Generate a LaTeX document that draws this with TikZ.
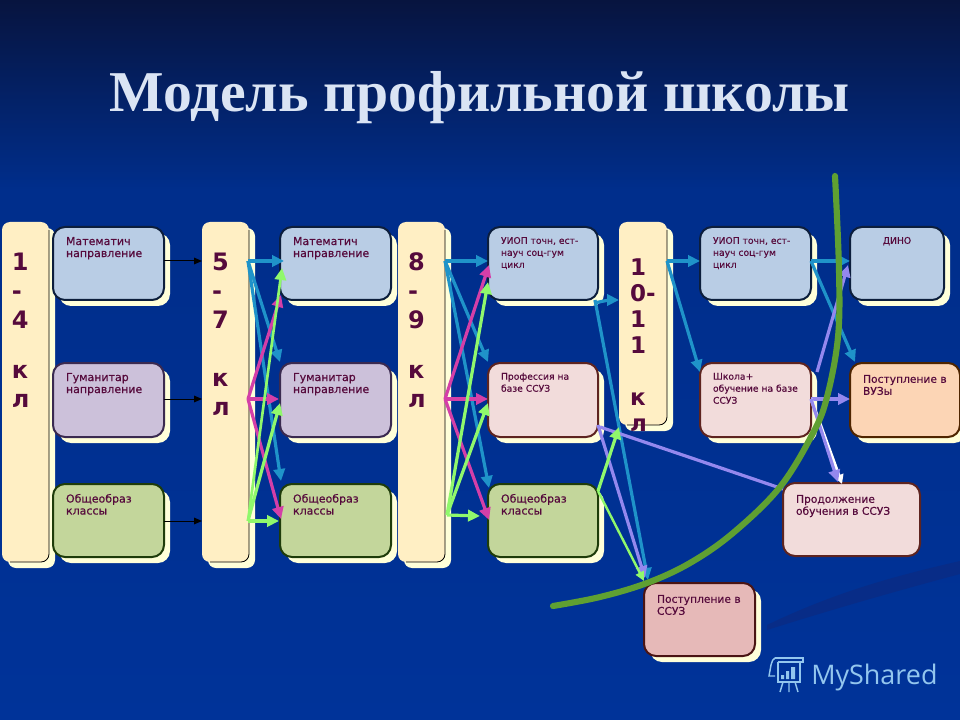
\documentclass[tikz,border=0pt]{standalone}
\usepackage{fontspec}
\setmainfont{DejaVu Sans}[BoldFont={DejaVu Sans Bold}]
\newfontfamily\boxfont{DejaVu Sans}[FakeBold=0.35]
\newfontfamily\titlefont{Liberation Serif}
\newfontfamily\logofont{Open Sans}
\usetikzlibrary{arrows.meta,calc}
\newlength\pxu \pxu=.75pt
\definecolor{cShadow}{HTML}{FFFFD9}
\definecolor{cCol}{HTML}{FFEFC4}
\definecolor{cInk}{HTML}{560A3C}
\definecolor{cBlueF}{HTML}{B9CDE5}\definecolor{cBlueD}{HTML}{0C1E3C}
\definecolor{cVioF}{HTML}{CCC1DA}\definecolor{cVioD}{HTML}{3A2A50}
\definecolor{cGrnF}{HTML}{C3D69B}\definecolor{cGrnD}{HTML}{1E3C0A}
\definecolor{cPnkF}{HTML}{F2DCDB}\definecolor{cPnkD}{HTML}{5E2420}
\definecolor{cOrgF}{HTML}{FCD5B5}\definecolor{cOrgD}{HTML}{4F2500}
\definecolor{cRosF}{HTML}{E6B9B8}\definecolor{cRosD}{HTML}{4A1414}
\definecolor{aBlue}{HTML}{1F93C9}
\definecolor{aPink}{HTML}{D43FA8}
\definecolor{aGreen}{HTML}{90F86C}
\definecolor{aLav}{HTML}{9488EE}
\definecolor{cCurve}{HTML}{5FA032}
\definecolor{cLogo}{HTML}{93C6EE}
\definecolor{bgTop}{HTML}{07143F}
\definecolor{bgMid}{HTML}{002E8C}
\definecolor{bgLow}{HTML}{003399}
\definecolor{bgSwoosh}{HTML}{082C87}
\definecolor{cTitle}{HTML}{DAE4F4}
\tikzset{
  schoolbox/.style={rectangle,rounded corners=9pt,line width=1.5pt,anchor=north west,
    outer sep=0pt,inner xsep=13\pxu,inner ysep=0pt,text=cInk},
  colbox/.style={rectangle,rounded corners=6pt,fill=cCol,anchor=north west,
    outer sep=0pt,inner sep=0pt},
  colnum/.style={anchor=north west,inner sep=0pt,outer sep=0pt,text=cInk,align=left,font=\bfseries\fontsize{24\pxu}{29\pxu}\selectfont},
  linkblack/.style={draw=black,line width=.75pt,-{Triangle[length=6pt,width=5pt]}},
  linkblue/.style={draw=aBlue,line width=2.4pt,-{Triangle[length=9pt,width=8.5pt]}},
  linkpink/.style={draw=aPink,line width=2.4pt,-{Triangle[length=9pt,width=8.5pt]}},
  linkgreen/.style={draw=aGreen,line width=2.4pt,-{Triangle[length=9pt,width=8.5pt]}},
  linkgreenthin/.style={draw=aGreen,line width=1.8pt,-{Triangle[length=7pt,width=6.5pt]}},
  linklav/.style={draw=aLav,line width=2.4pt,-{Triangle[length=9pt,width=8.5pt]}},
  linkwhite/.style={draw=white,line width=2.4pt,-{Triangle[length=7pt,width=7pt]}},
  curveline/.style={draw=cCurve,line width=4.6pt},
}
% name, x, y, w, h, fill, border, text
\newcommand{\noshadowrect}[8]{%
  \node[schoolbox,fill=#6,draw=#7] (#1) at (#2,#3)
    {\parbox[t][\dimexpr#5\pxu\relax][t]{\dimexpr#4\pxu-26\pxu\relax}{\vspace*{0pt}\boxfont #8}};
}
\newcommand{\schoolrect}[8]{%
  \fill[cShadow,rounded corners=9pt] (#2+6,#3+6) rectangle ++(#4,#5);
  \noshadowrect{#1}{#2}{#3}{#4}{#5}{#6}{#7}{#8}
}
\newcommand{\colrect}[5]{%
  \fill[cShadow,rounded corners=6pt] (#2+6,#3+6) rectangle ++(#4,#5);
  \node[colbox,minimum width=#4\pxu,minimum height=#5\pxu] (#1) at (#2,#3) {};
  \draw[black,line width=.6pt,rounded corners=6pt] ([shift={(0,8)}]#1.north east) -- (#1.south east) -- ([shift={(8,0)}]#1.south west);
}
\newcommand{\smalltext}[1]{\vspace*{10\pxu}\fontsize{11\pxu}{12\pxu}\selectfont #1\par}
\newcommand{\tinytext}[1]{\vspace*{10\pxu}\fontsize{9.2\pxu}{12\pxu}\selectfont #1\par}
\newcommand{\largetext}[1]{\vspace*{12\pxu}\fontsize{10.7\pxu}{12\pxu}\selectfont #1\par}
\begin{document}
\begin{tikzpicture}[x=.75pt,y=-.75pt]
\useasboundingbox (0,0) rectangle (960,720);
% background
\shade[top color=bgTop,bottom color=bgMid] (0,0) rectangle (960,190);
\fill[bgMid] (0,190) rectangle (960,260);
\shade[top color=bgMid,bottom color=bgLow] (0,260) rectangle (960,720);
\fill[bgSwoosh] (767,625) .. controls (840,590) and (900,575) .. (960,561) -- (960,574) .. controls (900,590) and (830,610) .. (767,630) -- cycle;
% title
\node[anchor=center,text=cTitle,font=\titlefont\bfseries\fontsize{43.3pt}{48pt}\selectfont] (title) at (480,98) {Модель профильной школы};

% columns
\colrect{col1}{2}{222}{47}{340}
\colrect{col2}{202}{222}{47}{340}
\colrect{col3}{398}{222}{47}{340}
\colrect{col4}{619}{222}{48}{203}
\node[colnum] (t1) at (12,253) {1\\-\\4\\[21\pxu]к\\л};
\node[colnum] (t2) at (212,253) {5\\-\\7\\[29\pxu]к\\л};
\node[colnum] (t3) at (408,253) {8\\-\\9\\[21\pxu]к\\л};
\node[colnum,font=\bfseries\fontsize{23\pxu}{26\pxu}\selectfont] (t4) at (630,259) {1\\0-\\1\\1\\[26\pxu]к\\л};

% boxes
\schoolrect{a1}{53}{227}{111}{73}{cBlueF}{cBlueD}{\smalltext{Математич\\направление}}
\schoolrect{a2}{53}{363}{111}{74}{cVioF}{cVioD}{\smalltext{Гуманитар\\направление}}
\schoolrect{a3}{53}{484}{111}{73}{cGrnF}{cGrnD}{\smalltext{Общеобраз\\классы}}
\schoolrect{b1}{280}{227}{111}{73}{cBlueF}{cBlueD}{\smalltext{Математич\\направление}}
\schoolrect{b2}{280}{363}{111}{74}{cVioF}{cVioD}{\smalltext{Гуманитар\\направление}}
\schoolrect{b3}{280}{484}{111}{73}{cGrnF}{cGrnD}{\smalltext{Общеобраз\\классы}}
\schoolrect{c1}{488}{227}{110}{73}{cBlueF}{cBlueD}{\tinytext{УИОП точн, ест-\\науч соц-гум\\цикл}}
\schoolrect{c2}{488}{363}{110}{74}{cPnkF}{cPnkD}{\tinytext{Профессия на\\базе ССУЗ}}
\schoolrect{c3}{488}{484}{110}{73}{cGrnF}{cGrnD}{\smalltext{Общеобраз\\классы}}
\schoolrect{d1}{700}{227}{111}{73}{cBlueF}{cBlueD}{\tinytext{УИОП точн, ест-\\науч соц-гум\\цикл}}
\schoolrect{d2}{700}{363}{111}{74}{cPnkF}{cPnkD}{\tinytext{Школа+\\обучение на базе\\ССУЗ}}
\schoolrect{e1}{850}{227}{94}{73}{cBlueF}{cBlueD}{\vspace*{10\pxu}\centering\fontsize{9.2\pxu}{12\pxu}\selectfont ДИНО\par}
\schoolrect{e2}{850}{363}{110}{74}{cOrgF}{cOrgD}{\largetext{Поступление в\\ВУЗы}}
\noshadowrect{f1}{783}{483}{137}{73}{cPnkF}{cPnkD}{\largetext{Продолжение\\обучения в ССУЗ}}
\schoolrect{g1}{644}{583}{111}{73}{cRosF}{cRosD}{\largetext{Поступление в\\ССУЗ}}

% 1-4 to 5-7
\draw[linkblack] ([shift={(0,34)}]a1.north east) -- ([shift={(0,39)}]col2.north west);
\draw[linkblack] ([shift={(0,36)}]a2.north east) -- ([shift={(0,177)}]col2.north west);
\draw[linkblack] ([shift={(0,37)}]a3.north east) -- ([shift={(0,299)}]col2.north west);
% 5-7 to b
\coordinate (p2a) at ([shift={(-1,39)}]col2.north east);
\coordinate (p2b) at ([shift={(-1,177)}]col2.north east);
\coordinate (p2c) at ([shift={(-1,299)}]col2.north east);
\draw[linkblue] (p2a) -- ([shift={(4,34)}]b1.north west);
\draw[linkblue] (p2a) -- ([shift={(0,-1)}]b2.north west);
\draw[linkblue] (p2a) -- ([shift={(1,-3)}]b3.north west);
\draw[linkpink] (p2b) -- ([shift={(1,68)}]b1.north west);
\draw[linkpink] (p2b) -- ([shift={(-1,36)}]b2.north west);
\draw[linkpink] (p2b) -- ([shift={(1,35)}]b3.north west);
\draw[linkgreen,line width=2pt] (p2c) -- ([shift={(2,41)}]b1.north west);
\draw[linkgreen] (p2c) -- ([shift={(0,40)}]b2.north west);
\draw[linkgreen] (p2c) -- ([shift={(-1,37)}]b3.north west);
% 8-9 to c
\coordinate (p3a) at ([shift={(0,39)}]col3.north east);
\coordinate (p3b) at ([shift={(0,177)}]col3.north east);
\coordinate (p3c) at ([shift={(2,293)}]col3.north east);
\draw[linkblue] (p3a) -- ([shift={(0,34)}]c1.north west);
\draw[linkblue] (p3a) -- ([shift={(0,-1)}]c2.north west);
\draw[linkblue] (p3a) -- ([shift={(1,4)}]c3.north west);
\draw[linkpink] (p3b) -- ([shift={(1,38)}]c1.north west);
\draw[linkpink] (p3b) -- ([shift={(0,36)}]c2.north west);
\draw[linkpink] (p3b) -- ([shift={(1,36)}]c3.north west);
\draw[linkgreen] (p3c) -- ([shift={(0,55)}]c1.north west);
\draw[linkgreen] (p3c) -- ([shift={(0,40)}]c2.north west);
\draw[linkgreen] (p3c) -- ([shift={(-8,32)}]c3.north west);
% c to col4 and g1
\coordinate (p4a) at ([shift={(-4,3)}]c1.south east);
\coordinate (p4c) at ([shift={(11,0)}]c1.south east);
\draw[linkblue] (p4a) -- (p4c) -- (col4.west |- c1.south east);
\draw[linkblue] ([shift={(-3,0)}]c1.south east) -- ([shift={(4,-3)}]g1.north west);
\draw[linklav] ([shift={(0,-12)}]c2.south east) -- ([shift={(1,-5)}]g1.north west);
\draw[draw=aLav,line width=2.4pt] ([shift={(2,-10)}]c2.south east) -- ([shift={(0,6)}]f1.north west);
\draw[linkgreenthin] ([shift={(0,7)}]c3.north east) -- ([shift={(0,-2)}]g1.north west);
\draw[linkgreen] ([shift={(0,7)}]c3.north east) -- ([shift={(0,2)}]col4.south west);
% col4 to d
\coordinate (p4b) at ([shift={(0,39)}]col4.north east);
\draw[linkblue] (p4b) -- ([shift={(0,34)}]d1.north west);
\draw[linkblue] (p4b) -- ([shift={(0,9)}]d2.north west);
% d to e
\coordinate (p5a) at ([shift={(0,34)}]d1.north east);
\coordinate (p5b) at ([shift={(0,36)}]d2.north east);
\draw[linkblue] (p5a) -- ([shift={(0,34)}]e1.north west);
\draw[linkblue] (p5a) -- ([shift={(5,-1)}]e2.north west);
\draw[linklav] ([shift={(6,-27)}]p5b) -- ([shift={(-2,38)}]e1.north west);
\draw[linklav] (p5b) -- ([shift={(0,36)}]e2.north west);
\draw[linkwhite] (p5b) -- ([shift={(59,1)}]f1.north west);
\draw[linklav] (p5b) -- ([shift={(55,-1)}]f1.north west);

% dividing curve
\draw[curveline,line cap=round] plot[smooth,tension=.6] coordinates {(553,606) (600,597) (647,583) (690,563) (733,533) (780,487) (813,433) (827,397) (838,337) (839,270) (835,176)};

% logo
\begin{scope}[draw=cLogo,line width=1.1pt]
\draw (778,662) -- (778,682) -- (800,682) -- (800,662);
\draw (775,658) -- (803,658) -- (803,662) -- (778,662);
\draw (775,658) .. controls (771,660) and (771,666) .. (769,676) -- (775,676);
\draw (783,682) -- (780,692) (789,682) -- (789,692) (795,682) -- (798,692);
\fill[cLogo] (781,675) rectangle (784,679) (786,671) rectangle (789,679) (791,667) rectangle (795,679);
\end{scope}
\node[anchor=west,inner sep=0pt,text=cLogo,font=\logofont\fontsize{20.2pt}{24pt}\selectfont] (logo) at (811,677) {MyShared};
\end{tikzpicture}
\end{document}
